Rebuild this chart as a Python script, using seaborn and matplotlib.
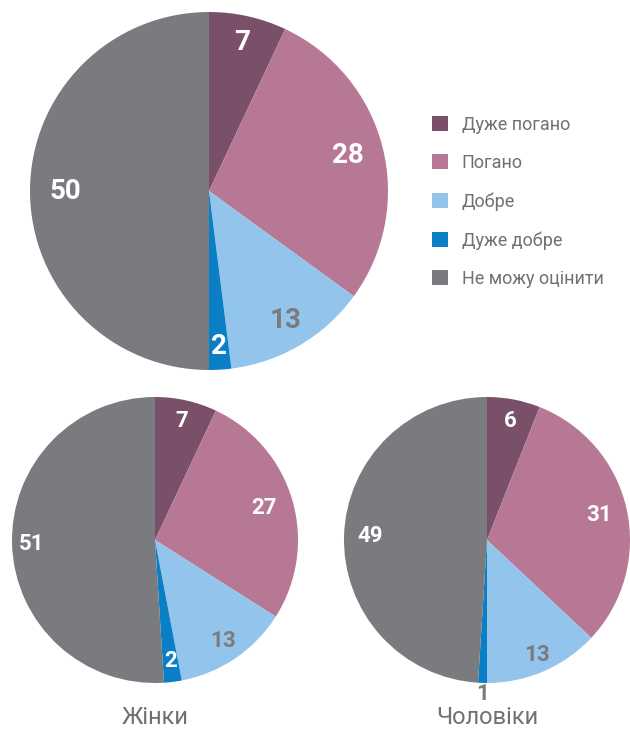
import matplotlib
matplotlib.use("Agg")
import matplotlib.pyplot as plt
import seaborn as sns
import numpy as np
from matplotlib.patches import Patch

# ---- data ----
categories = ["Дуже погано", "Погано", "Добре", "Дуже добре", "Не можу оцінити"]
all_values = [7, 28, 13, 2, 50]
women_values = [7, 27, 13, 2, 51]
men_values = [6, 31, 13, 1, 49]
chart_titles = ["", "Жінки", "Чоловіки"]

# ---- style ----
colors = ["#7a4f6a", "#b77896", "#93c5ec", "#0a7fc6", "#7a7b7f"]
text_gray = "#6f7073"
label_colors = ["white", "white", "#7a7b7f", "white", "white"]

sns.set_theme(style="white")
plt.rcParams["font.family"] = ["Roboto", "DejaVu Sans"]

W, H = 630, 729
fig = plt.figure(figsize=(W / 100, H / 100), dpi=100)
ax = fig.add_axes([0, 0, 1, 1])

layouts = [
    dict(values=all_values, center=(209, H - 191), radius=179, fs=20,
         dist=[0.85, 0.80, 0.84, 0.87, 0.80]),
    dict(values=women_values, center=(155, H - 540), radius=143, fs=16,
         dist=[0.85, 0.79, 0.85, 0.85, 0.86]),
    dict(values=men_values, center=(487, H - 540), radius=143, fs=16,
         dist=[0.85, 0.80, 0.88, 1.08, 0.82]),
]

for i, lay in enumerate(layouts):
    vals = lay["values"]
    cx, cy = lay["center"]
    r = lay["radius"]
    wedges, _ = ax.pie(vals, colors=colors, startangle=90, counterclock=False,
                       center=(cx, cy), radius=r,
                       wedgeprops=dict(linewidth=0))
    for j, (w, v) in enumerate(zip(wedges, vals)):
        ang = np.deg2rad((w.theta1 + w.theta2) / 2)
        d = lay["dist"][j] * r
        col = label_colors[j]
        if d > r:
            col = "#7a7b7f"
        ax.text(cx + d * np.cos(ang), cy + d * np.sin(ang), str(v),
                ha="center", va="center", fontsize=lay["fs"],
                fontweight="bold", color=col)
    if chart_titles[i]:
        ax.text(cx, 11, chart_titles[i], ha="center", va="center",
                fontsize=17, color=text_gray)

ax.set_xlim(0, W)
ax.set_ylim(0, H)
ax.set_aspect("equal")
ax.axis("off")

handles = [Patch(facecolor=c, edgecolor="none") for c in colors]
leg = ax.legend(handles, categories, loc="upper left",
                bbox_to_anchor=(432 / W, 1 - 116 / H), frameon=False,
                fontsize=13, handlelength=0.9, handleheight=0.9,
                handletextpad=0.75, labelspacing=1.12, borderaxespad=0,
                borderpad=0)
for t in leg.get_texts():
    t.set_color(text_gray)

fig.savefig("out.png", dpi=100)
